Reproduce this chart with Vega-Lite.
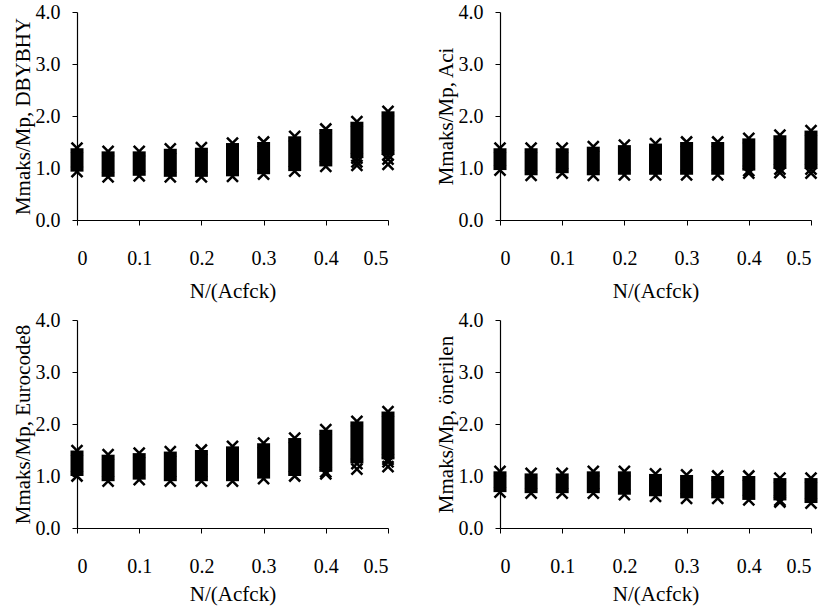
{
  "$schema": "https://vega.github.io/schema/vega-lite/v6.json",
  "background": "white",
  "padding": {"left": 12, "top": 2, "right": 2, "bottom": 2},
  "datasets": {
    "cols": [
      {"p": 1, "x": 0, "lo": 0.93, "hi": 1.38},
      {"p": 1, "x": 0.05, "lo": 0.83, "hi": 1.32},
      {"p": 1, "x": 0.1, "lo": 0.85, "hi": 1.32},
      {"p": 1, "x": 0.15, "lo": 0.83, "hi": 1.37},
      {"p": 1, "x": 0.2, "lo": 0.83, "hi": 1.39},
      {"p": 1, "x": 0.25, "lo": 0.84, "hi": 1.48},
      {"p": 1, "x": 0.3, "lo": 0.88, "hi": 1.5},
      {"p": 1, "x": 0.35, "lo": 0.94, "hi": 1.61},
      {"p": 1, "x": 0.4, "lo": 1.03, "hi": 1.75},
      {"p": 1, "x": 0.45, "lo": 1.19, "hi": 1.89},
      {"p": 1, "x": 0.5, "lo": 1.25, "hi": 2.09},
      {"p": 2, "x": 0, "lo": 0.96, "hi": 1.38},
      {"p": 2, "x": 0.05, "lo": 0.86, "hi": 1.38},
      {"p": 2, "x": 0.1, "lo": 0.9, "hi": 1.38},
      {"p": 2, "x": 0.15, "lo": 0.86, "hi": 1.41},
      {"p": 2, "x": 0.2, "lo": 0.87, "hi": 1.44},
      {"p": 2, "x": 0.25, "lo": 0.87, "hi": 1.47},
      {"p": 2, "x": 0.3, "lo": 0.87, "hi": 1.5},
      {"p": 2, "x": 0.35, "lo": 0.87, "hi": 1.5},
      {"p": 2, "x": 0.4, "lo": 0.95, "hi": 1.57},
      {"p": 2, "x": 0.45, "lo": 0.98, "hi": 1.63},
      {"p": 2, "x": 0.5, "lo": 0.98, "hi": 1.72},
      {"p": 3, "x": 0, "lo": 1.0, "hi": 1.49},
      {"p": 3, "x": 0.05, "lo": 0.9, "hi": 1.41},
      {"p": 3, "x": 0.1, "lo": 0.93, "hi": 1.44},
      {"p": 3, "x": 0.15, "lo": 0.9, "hi": 1.47},
      {"p": 3, "x": 0.2, "lo": 0.9, "hi": 1.5},
      {"p": 3, "x": 0.25, "lo": 0.9, "hi": 1.57},
      {"p": 3, "x": 0.3, "lo": 0.95, "hi": 1.63},
      {"p": 3, "x": 0.35, "lo": 1.0, "hi": 1.73},
      {"p": 3, "x": 0.4, "lo": 1.08, "hi": 1.89},
      {"p": 3, "x": 0.45, "lo": 1.24, "hi": 2.05},
      {"p": 3, "x": 0.5, "lo": 1.32, "hi": 2.24},
      {"p": 4, "x": 0, "lo": 0.69, "hi": 1.09},
      {"p": 4, "x": 0.05, "lo": 0.67, "hi": 1.05},
      {"p": 4, "x": 0.1, "lo": 0.67, "hi": 1.05},
      {"p": 4, "x": 0.15, "lo": 0.67, "hi": 1.09},
      {"p": 4, "x": 0.2, "lo": 0.64, "hi": 1.09},
      {"p": 4, "x": 0.25, "lo": 0.61, "hi": 1.04},
      {"p": 4, "x": 0.3, "lo": 0.57, "hi": 1.02},
      {"p": 4, "x": 0.35, "lo": 0.57, "hi": 1.0},
      {"p": 4, "x": 0.4, "lo": 0.54, "hi": 1.0},
      {"p": 4, "x": 0.45, "lo": 0.53, "hi": 0.96},
      {"p": 4, "x": 0.5, "lo": 0.48, "hi": 0.96}
    ],
    "extra": [
      {"p": 1, "x": 0.45, "y": 1.05},
      {"p": 1, "x": 0.45, "y": 1.12},
      {"p": 1, "x": 0.5, "y": 1.07},
      {"p": 1, "x": 0.5, "y": 1.17},
      {"p": 2, "x": 0.4, "y": 0.9},
      {"p": 2, "x": 0.45, "y": 0.91},
      {"p": 2, "x": 0.5, "y": 0.9},
      {"p": 3, "x": 0.4, "y": 1.04},
      {"p": 3, "x": 0.45, "y": 1.13},
      {"p": 3, "x": 0.5, "y": 1.18},
      {"p": 3, "x": 0.5, "y": 1.27},
      {"p": 4, "x": 0.45, "y": 0.5}
    ]
  },
  "config": {
    "view": {"stroke": null},
    "font": "Times New Roman, Liberation Serif, serif",
    "axis": {
      "labelFont": "Times New Roman, Liberation Serif, serif",
      "titleFont": "Times New Roman, Liberation Serif, serif",
      "labelFontSize": 20,
      "titleFontSize": 21,
      "titleFontWeight": "normal",
      "labelColor": "black",
      "titleColor": "black",
      "domainColor": "black",
      "domainWidth": 1.2,
      "tickColor": "black",
      "tickSize": 5,
      "grid": false
    }
  },
  "spacing": {"row": 9, "column": 36},
  "columns": 2,
  "concat": [
    {
      "width": 311, "height": 208,
      "layer": [
        {"mark": {"type": "rule", "color": "#808080", "strokeWidth": 1}, "encoding": {"x": {"datum": 0.5, "type": "quantitative"}}},
        {"data": {"name": "cols"}, "transform": [{"filter": "datum.p == 1"}],
         "mark": {"type": "rule", "color": "black", "strokeWidth": 13, "strokeCap": "butt"},
         "encoding": {
           "x": {"field": "x", "type": "quantitative", "scale": {"domain": [0, 0.5], "nice": false},
                 "axis": {"values": [0, 0.1, 0.2, 0.3, 0.4, 0.5], "format": "~g", "labelPadding": 23, "titlePadding": 12, "title": "N/(Acfck)"}},
           "y": {"field": "lo", "type": "quantitative", "scale": {"domain": [0, 4], "nice": false},
                 "axis": {"values": [0, 1, 2, 3, 4], "format": ".1f", "labelPadding": 12, "titlePadding": 2, "title": "Mmaks/Mp, DBYBHY"}},
           "y2": {"field": "hi"}
         }},
        {"data": {"name": "cols"}, "transform": [{"filter": "datum.p == 1"}, {"fold": ["lo", "hi"], "as": ["k", "y"]}],
         "mark": {"type": "point", "shape": "M-1,-1L1,1M1,-1L-1,1", "size": 121, "filled": false, "color": "black", "strokeWidth": 2.5, "opacity": 1},
         "encoding": {"x": {"field": "x", "type": "quantitative"}, "y": {"field": "y", "type": "quantitative"}}},
        {"data": {"name": "extra"}, "transform": [{"filter": "datum.p == 1"}],
         "mark": {"type": "point", "shape": "M-1,-1L1,1M1,-1L-1,1", "size": 121, "filled": false, "color": "black", "strokeWidth": 2.5, "opacity": 1},
         "encoding": {"x": {"field": "x", "type": "quantitative"}, "y": {"field": "y", "type": "quantitative"}}},
        {"mark": {"type": "rule", "color": "black", "strokeWidth": 3}, "encoding": {"y": {"datum": 1, "type": "quantitative"}}}
      ]
    },
    {
      "width": 311, "height": 208,
      "layer": [
        {"mark": {"type": "rule", "color": "#808080", "strokeWidth": 1}, "encoding": {"x": {"datum": 0.5, "type": "quantitative"}}},
        {"data": {"name": "cols"}, "transform": [{"filter": "datum.p == 2"}],
         "mark": {"type": "rule", "color": "black", "strokeWidth": 13, "strokeCap": "butt"},
         "encoding": {
           "x": {"field": "x", "type": "quantitative", "scale": {"domain": [0, 0.5], "nice": false},
                 "axis": {"values": [0, 0.1, 0.2, 0.3, 0.4, 0.5], "format": "~g", "labelPadding": 23, "titlePadding": 12, "title": "N/(Acfck)"}},
           "y": {"field": "lo", "type": "quantitative", "scale": {"domain": [0, 4], "nice": false},
                 "axis": {"values": [0, 1, 2, 3, 4], "format": ".1f", "labelPadding": 12, "titlePadding": 2, "title": "Mmaks/Mp, Aci"}},
           "y2": {"field": "hi"}
         }},
        {"data": {"name": "cols"}, "transform": [{"filter": "datum.p == 2"}, {"fold": ["lo", "hi"], "as": ["k", "y"]}],
         "mark": {"type": "point", "shape": "M-1,-1L1,1M1,-1L-1,1", "size": 121, "filled": false, "color": "black", "strokeWidth": 2.5, "opacity": 1},
         "encoding": {"x": {"field": "x", "type": "quantitative"}, "y": {"field": "y", "type": "quantitative"}}},
        {"data": {"name": "extra"}, "transform": [{"filter": "datum.p == 2"}],
         "mark": {"type": "point", "shape": "M-1,-1L1,1M1,-1L-1,1", "size": 121, "filled": false, "color": "black", "strokeWidth": 2.5, "opacity": 1},
         "encoding": {"x": {"field": "x", "type": "quantitative"}, "y": {"field": "y", "type": "quantitative"}}},
        {"mark": {"type": "rule", "color": "black", "strokeWidth": 3}, "encoding": {"y": {"datum": 1, "type": "quantitative"}}}
      ]
    },
    {
      "width": 311, "height": 208,
      "layer": [
        {"mark": {"type": "rule", "color": "#808080", "strokeWidth": 1}, "encoding": {"x": {"datum": 0.5, "type": "quantitative"}}},
        {"data": {"name": "cols"}, "transform": [{"filter": "datum.p == 3"}],
         "mark": {"type": "rule", "color": "black", "strokeWidth": 13, "strokeCap": "butt"},
         "encoding": {
           "x": {"field": "x", "type": "quantitative", "scale": {"domain": [0, 0.5], "nice": false},
                 "axis": {"values": [0, 0.1, 0.2, 0.3, 0.4, 0.5], "format": "~g", "labelPadding": 23, "titlePadding": 7, "title": "N/(Acfck)"}},
           "y": {"field": "lo", "type": "quantitative", "scale": {"domain": [0, 4], "nice": false},
                 "axis": {"values": [0, 1, 2, 3, 4], "format": ".1f", "labelPadding": 12, "titlePadding": 2, "title": "Mmaks/Mp, Eurocode8"}},
           "y2": {"field": "hi"}
         }},
        {"data": {"name": "cols"}, "transform": [{"filter": "datum.p == 3"}, {"fold": ["lo", "hi"], "as": ["k", "y"]}],
         "mark": {"type": "point", "shape": "M-1,-1L1,1M1,-1L-1,1", "size": 121, "filled": false, "color": "black", "strokeWidth": 2.5, "opacity": 1},
         "encoding": {"x": {"field": "x", "type": "quantitative"}, "y": {"field": "y", "type": "quantitative"}}},
        {"data": {"name": "extra"}, "transform": [{"filter": "datum.p == 3"}],
         "mark": {"type": "point", "shape": "M-1,-1L1,1M1,-1L-1,1", "size": 121, "filled": false, "color": "black", "strokeWidth": 2.5, "opacity": 1},
         "encoding": {"x": {"field": "x", "type": "quantitative"}, "y": {"field": "y", "type": "quantitative"}}},
        {"mark": {"type": "rule", "color": "black", "strokeWidth": 3}, "encoding": {"y": {"datum": 1, "type": "quantitative"}}}
      ]
    },
    {
      "width": 311, "height": 208,
      "layer": [
        {"mark": {"type": "rule", "color": "#808080", "strokeWidth": 1}, "encoding": {"x": {"datum": 0.5, "type": "quantitative"}}},
        {"mark": {"type": "rule", "color": "#808080", "strokeWidth": 1}, "encoding": {"y": {"datum": 4, "type": "quantitative"}}},
        {"data": {"name": "cols"}, "transform": [{"filter": "datum.p == 4"}],
         "mark": {"type": "rule", "color": "black", "strokeWidth": 13, "strokeCap": "butt"},
         "encoding": {
           "x": {"field": "x", "type": "quantitative", "scale": {"domain": [0, 0.5], "nice": false},
                 "axis": {"values": [0, 0.1, 0.2, 0.3, 0.4, 0.5], "format": "~g", "labelPadding": 23, "titlePadding": 7, "title": "N/(Acfck)"}},
           "y": {"field": "lo", "type": "quantitative", "scale": {"domain": [0, 4], "nice": false},
                 "axis": {"values": [0, 1, 2, 3, 4], "format": ".1f", "labelPadding": 12, "titlePadding": 2, "title": "Mmaks/Mp, önerilen"}},
           "y2": {"field": "hi"}
         }},
        {"data": {"name": "cols"}, "transform": [{"filter": "datum.p == 4"}, {"fold": ["lo", "hi"], "as": ["k", "y"]}],
         "mark": {"type": "point", "shape": "M-1,-1L1,1M1,-1L-1,1", "size": 121, "filled": false, "color": "black", "strokeWidth": 2.5, "opacity": 1},
         "encoding": {"x": {"field": "x", "type": "quantitative"}, "y": {"field": "y", "type": "quantitative"}}},
        {"data": {"name": "extra"}, "transform": [{"filter": "datum.p == 4"}],
         "mark": {"type": "point", "shape": "M-1,-1L1,1M1,-1L-1,1", "size": 121, "filled": false, "color": "black", "strokeWidth": 2.5, "opacity": 1},
         "encoding": {"x": {"field": "x", "type": "quantitative"}, "y": {"field": "y", "type": "quantitative"}}},
        {"mark": {"type": "rule", "color": "black", "strokeWidth": 3}, "encoding": {"y": {"datum": 1, "type": "quantitative"}}}
      ]
    }
  ]
}
